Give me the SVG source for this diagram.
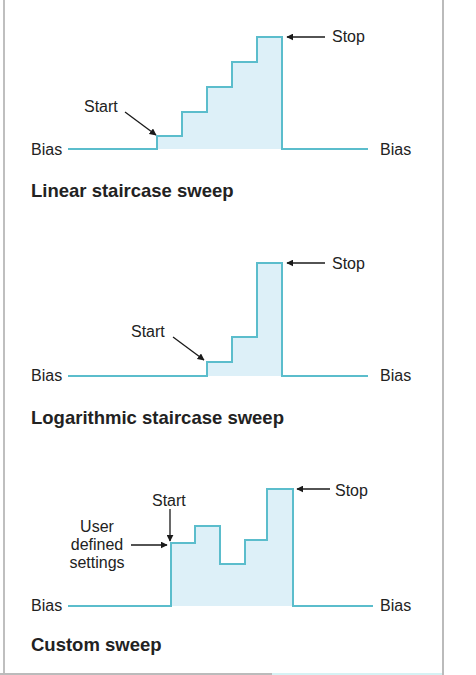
<svg xmlns="http://www.w3.org/2000/svg" width="476" height="675" viewBox="0 0 476 675">
<defs>
<marker id="ah" viewBox="0 0 10 10" refX="9" refY="5" markerWidth="7" markerHeight="7" markerUnits="userSpaceOnUse" orient="auto">
<path d="M0,0 L10,5 L0,10 z" fill="#1a1a1a"/>
</marker>
<style>
.lbl{font-family:"Liberation Sans",Arial,sans-serif;font-size:16px;fill:#222}
.ttl{font-family:"Liberation Sans",Arial,sans-serif;font-size:18.5px;font-weight:bold;fill:#222}
.wave{fill:none;stroke:#5bbdcc;stroke-width:2}
.area{fill:#ddf0f8;stroke:none}
.arr{stroke:#1a1a1a;stroke-width:1.3;fill:none;marker-end:url(#ah)}
</style>
</defs>
<rect width="476" height="675" fill="#ffffff"/>
<line x1="4" y1="0" x2="4" y2="675" stroke="#aaaaaa" stroke-width="1.5"/>
<line x1="443" y1="0" x2="443" y2="675" stroke="#bbbbbb" stroke-width="2"/>
<line x1="0" y1="674" x2="272" y2="674" stroke="#bbbbbb" stroke-width="2"/>
<line x1="272" y1="674" x2="442" y2="674" stroke="#d6f2f4" stroke-width="2"/>

<g id="linear">
<path class="area" d="M157,149 V136 H182 V112 H207 V87 H232 V62 H257 V37 H282 V149 Z"/>
<path class="wave" d="M68,149 H157 V136 H182 V112 H207 V87 H232 V62 H257 V37 H282 V149 H368"/>
<text class="lbl" x="31" y="155">Bias</text>
<text class="lbl" x="380" y="155">Bias</text>
<text class="lbl" x="84" y="112">Start</text>
<text class="lbl" x="332" y="42">Stop</text>
<text class="ttl" x="31" y="197">Linear staircase sweep</text>
</g>

<g id="logarithmic">
<path class="area" d="M207,376 V362 H232 V337 H257 V263 H282 V376 Z"/>
<path class="wave" d="M68,376 H207 V362 H232 V337 H257 V263 H282 V376 H368"/>
<text class="lbl" x="31" y="381">Bias</text>
<text class="lbl" x="380" y="381">Bias</text>
<text class="lbl" x="131" y="337">Start</text>
<text class="lbl" x="332" y="269">Stop</text>
<text class="ttl" x="31" y="424">Logarithmic staircase sweep</text>
</g>

<g id="custom">
<path class="area" d="M171,606 V543 H195 V526 H220 V564 H245 V540 H267 V489 H293 V606 Z"/>
<path class="wave" d="M68,606 H171 V543 H195 V526 H220 V564 H245 V540 H267 V489 H293 V606 H373"/>
<text class="lbl" x="31" y="611">Bias</text>
<text class="lbl" x="380" y="611">Bias</text>
<text class="lbl" x="152" y="506">Start</text>
<text class="lbl" x="335" y="496">Stop</text>
<text class="lbl" x="97" y="532" text-anchor="middle">User</text>
<text class="lbl" x="97" y="550" text-anchor="middle">defined</text>
<text class="lbl" x="97" y="568" text-anchor="middle">settings</text>
<text class="ttl" x="31" y="651">Custom sweep</text>
</g>

<g id="connectors">
<line class="arr" x1="125" y1="112" x2="156" y2="135"/>
<line class="arr" x1="325" y1="37" x2="287" y2="37"/>
<line class="arr" x1="173" y1="337" x2="204" y2="360"/>
<line class="arr" x1="325" y1="263" x2="287" y2="263"/>
<line class="arr" x1="170" y1="509" x2="170" y2="541"/>
<line class="arr" x1="131" y1="545" x2="167" y2="545"/>
<line class="arr" x1="330" y1="489" x2="297" y2="489"/>
</g>
</svg>
